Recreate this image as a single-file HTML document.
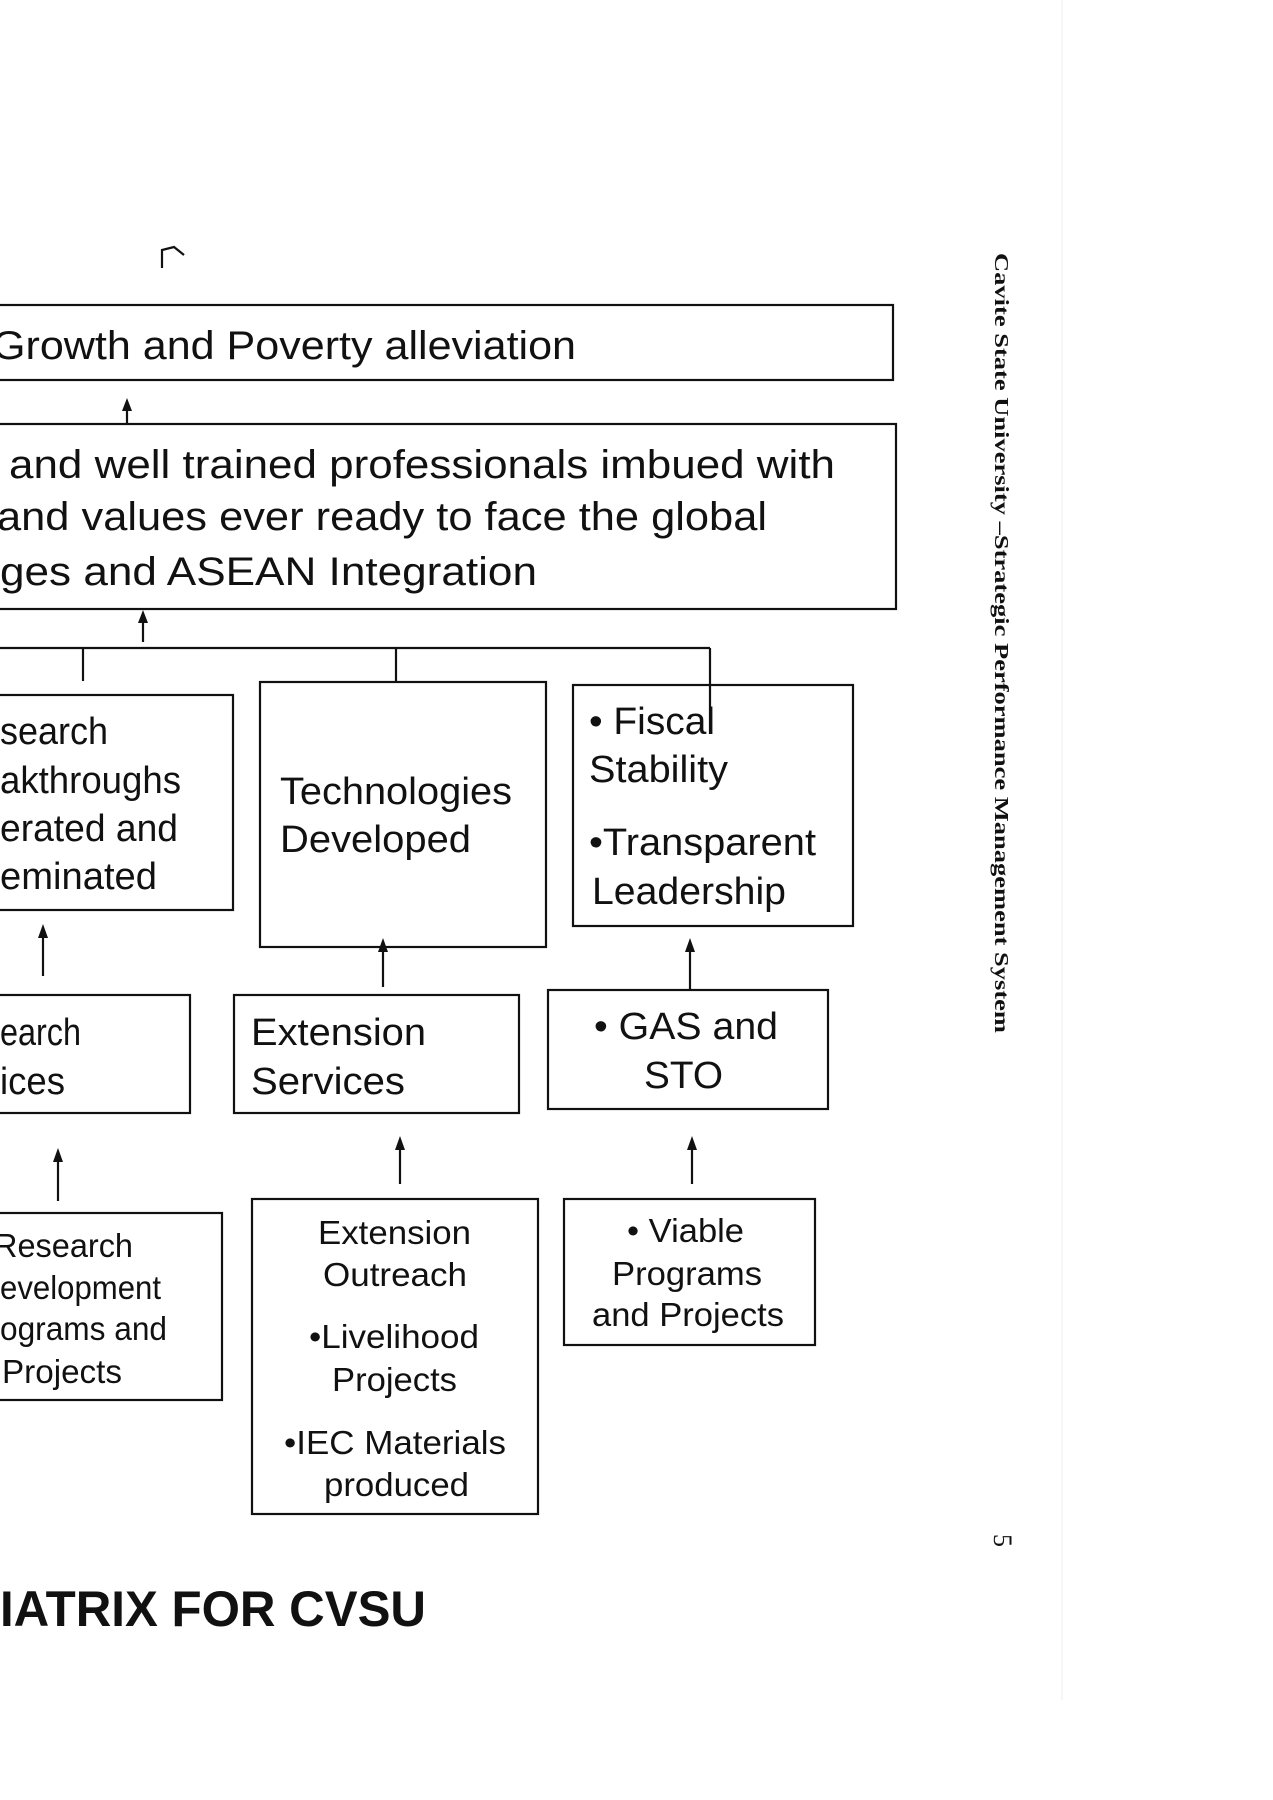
<!DOCTYPE html>
<html><head><meta charset="utf-8"><style>
html,body{margin:0;padding:0;background:#fff;}
svg{display:block;}
text{font-family:"Liberation Sans",Arial,sans-serif;fill:#111;}
.b{font-size:40px;}
.m{font-size:38px;}
.s{font-size:33px;}
.r{fill:none;stroke:#111;stroke-width:2.2;}
.l{stroke:#111;stroke-width:2.2;fill:none;}
.h{fill:#111;stroke:none;}
</style></head><body>
<svg width="1273" height="1800" viewBox="0 0 1273 1800" xmlns="http://www.w3.org/2000/svg">
<rect width="1273" height="1800" fill="#fff"/>
<line x1="1062" y1="0" x2="1062" y2="1700" stroke="#eee" stroke-width="1"/>
<path d="M162,268 L162,250 L174,247 L184,255" class="l" stroke-width="1.6"/>

<g>
<rect x="-5" y="305" width="898" height="75" class="r"/>
<text class="b" x="-8" y="359" textLength="584" lengthAdjust="spacingAndGlyphs">Growth and Poverty alleviation</text>
</g>
<g><line x1="127" y1="424" x2="127" y2="408" class="l"/><polygon class="h" points="127,398 122,411 132,411"/></g>

<g>
<rect x="-5" y="424" width="901" height="185" class="r"/>
<text class="b" x="9" y="478" textLength="826" lengthAdjust="spacingAndGlyphs">and well trained professionals imbued with</text>
<text class="b" x="-3" y="530" textLength="770" lengthAdjust="spacingAndGlyphs">and values ever ready to face the global</text>
<text class="b" x="0" y="585" textLength="537" lengthAdjust="spacingAndGlyphs">ges and ASEAN Integration</text>
</g>
<g><line x1="143" y1="642" x2="143" y2="620" class="l"/><polygon class="h" points="143,610 138,623 148,623"/></g>

<g>
<line x1="0" y1="648" x2="710" y2="648" class="l"/>
<line x1="83" y1="648" x2="83" y2="681" class="l"/>
<line x1="396" y1="648" x2="396" y2="682" class="l"/>
<line x1="710" y1="648" x2="710" y2="734" class="l"/>
</g>

<g>
<rect x="-5" y="695" width="238" height="215" class="r"/>
<text class="m" x="0" y="744" textLength="108" lengthAdjust="spacingAndGlyphs">search</text>
<text class="m" x="0" y="793" textLength="181" lengthAdjust="spacingAndGlyphs">akthroughs</text>
<text class="m" x="0" y="841" textLength="178" lengthAdjust="spacingAndGlyphs">erated and</text>
<text class="m" x="0" y="889" textLength="157" lengthAdjust="spacingAndGlyphs">eminated</text>
</g>
<g>
<rect x="260" y="682" width="286" height="265" class="r"/>
<text class="m" x="280" y="804" textLength="232" lengthAdjust="spacingAndGlyphs">Technologies</text>
<text class="m" x="280" y="852" textLength="191" lengthAdjust="spacingAndGlyphs">Developed</text>
</g>
<g>
<rect x="573" y="685" width="280" height="241" class="r"/>
<text class="m" x="589" y="734" textLength="126" lengthAdjust="spacingAndGlyphs">• Fiscal</text>
<text class="m" x="589" y="782" textLength="139" lengthAdjust="spacingAndGlyphs">Stability</text>
<text class="m" x="589" y="855" textLength="227" lengthAdjust="spacingAndGlyphs">•Transparent</text>
<text class="m" x="592" y="904" textLength="194" lengthAdjust="spacingAndGlyphs">Leadership</text>
</g>
<g><line x1="43" y1="976" x2="43" y2="936" class="l"/><polygon class="h" points="43,924 38,938 48,938"/></g>
<g><line x1="383" y1="987" x2="383" y2="950" class="l"/><polygon class="h" points="383,938 378,952 388,952"/></g>
<g><line x1="690" y1="990" x2="690" y2="950" class="l"/><polygon class="h" points="690,938 685,952 695,952"/></g>

<g>
<rect x="-5" y="995" width="195" height="118" class="r"/>
<text class="m" x="0" y="1045" textLength="81" lengthAdjust="spacingAndGlyphs">earch</text>
<text class="m" x="0" y="1094" textLength="65" lengthAdjust="spacingAndGlyphs">ices</text>
</g>
<g>
<rect x="234" y="995" width="285" height="118" class="r"/>
<text class="m" x="251" y="1045" textLength="175" lengthAdjust="spacingAndGlyphs">Extension</text>
<text class="m" x="251" y="1094" textLength="154" lengthAdjust="spacingAndGlyphs">Services</text>
</g>
<g>
<rect x="548" y="990" width="280" height="119" class="r"/>
<text class="m" x="594" y="1039" textLength="184" lengthAdjust="spacingAndGlyphs">• GAS and</text>
<text class="m" x="644" y="1088" textLength="79" lengthAdjust="spacingAndGlyphs">STO</text>
</g>
<g><line x1="58" y1="1201" x2="58" y2="1160" class="l"/><polygon class="h" points="58,1148 53,1162 63,1162"/></g>
<g><line x1="400" y1="1184" x2="400" y2="1148" class="l"/><polygon class="h" points="400,1136 395,1150 405,1150"/></g>
<g><line x1="692" y1="1184" x2="692" y2="1148" class="l"/><polygon class="h" points="692,1136 687,1150 697,1150"/></g>

<g>
<rect x="-5" y="1213" width="227" height="187" class="r"/>
<text class="s" x="-6" y="1257" textLength="139" lengthAdjust="spacingAndGlyphs">Research</text>
<text class="s" x="0" y="1299" textLength="161" lengthAdjust="spacingAndGlyphs">evelopment</text>
<text class="s" x="0" y="1340" textLength="167" lengthAdjust="spacingAndGlyphs">ograms and</text>
<text class="s" x="2" y="1383" textLength="120" lengthAdjust="spacingAndGlyphs">Projects</text>
</g>
<g>
<rect x="252" y="1199" width="286" height="315" class="r"/>
<text class="s" x="318" y="1244" textLength="153" lengthAdjust="spacingAndGlyphs">Extension</text>
<text class="s" x="323" y="1286" textLength="144" lengthAdjust="spacingAndGlyphs">Outreach</text>
<text class="s" x="309" y="1348" textLength="170" lengthAdjust="spacingAndGlyphs">•Livelihood</text>
<text class="s" x="332" y="1391" textLength="125" lengthAdjust="spacingAndGlyphs">Projects</text>
<text class="s" x="284" y="1454" textLength="222" lengthAdjust="spacingAndGlyphs">•IEC Materials</text>
<text class="s" x="324" y="1496" textLength="145" lengthAdjust="spacingAndGlyphs">produced</text>
</g>
<g>
<rect x="564" y="1199" width="251" height="146" class="r"/>
<text class="s" x="627" y="1242" textLength="117" lengthAdjust="spacingAndGlyphs">• Viable</text>
<text class="s" x="612" y="1285" textLength="150" lengthAdjust="spacingAndGlyphs">Programs</text>
<text class="s" x="592" y="1326" textLength="192" lengthAdjust="spacingAndGlyphs">and Projects</text>
</g>

<text x="0" y="1626" style="font-size:50px;font-weight:bold" textLength="426" lengthAdjust="spacingAndGlyphs">IATRIX FOR CVSU</text>

<text transform="translate(995,253) rotate(90)" x="0" y="0" style='font-family:"Liberation Serif",serif;font-size:20px;font-weight:bold' textLength="780" lengthAdjust="spacingAndGlyphs">Cavite State University –Strategic Performance Management System</text>
<text transform="translate(994,1534) rotate(90)" x="0" y="0" style='font-family:"Liberation Serif",serif;font-size:26px'>5</text>
</svg>
</body></html>
